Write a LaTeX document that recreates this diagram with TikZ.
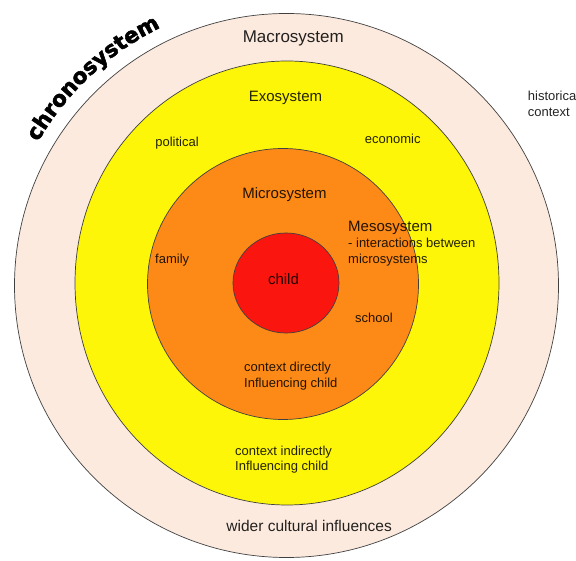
\documentclass[tikz,border=0pt]{standalone}
\usepackage{fontspec}
\setmainfont{Liberation Sans}
\newfontfamily\heavyfont{DejaVu Sans Bold}[FakeBold=2.5]
\usetikzlibrary{decorations.text,calc}
\definecolor{macrofill}{RGB}{252,234,222}
\definecolor{exofill}{RGB}{254,246,8}
\definecolor{microfill}{RGB}{253,138,22}
\definecolor{childfill}{RGB}{250,22,14}
\begin{document}
\begin{tikzpicture}[x=1pt,y=1pt,
  ring/.style={draw=black!75, line width=0.7pt},
  lbl/.style={inner sep=0pt, text=black, text opacity=0.86, font=\fontsize{13}{16}\selectfont},
  ttl/.style={lbl, font=\fontsize{15}{18}\selectfont},
  big/.style={lbl, font=\fontsize{17}{20}\selectfont}]
\useasboundingbox (0,0) rectangle (576,560);
\fill[white] (0,0) rectangle (576,560);
\coordinate (C) at (286.5,274.5);
% rings
\path[ring, fill=macrofill] (C) circle[radius=272];
\path[ring, fill=exofill] (287,277) ellipse[x radius=212, y radius=222];
\path[ring, fill=microfill] (283,276) circle[radius=135.5];
\path[ring, fill=childfill] (286,277) ellipse[x radius=53, y radius=50];
% chronosystem along arc
\path[decorate, decoration={text along path, text align=center,
  text format delimiters={|}{|},
  text={|\heavyfont\fontsize{21.5}{22}\selectfont|chronosystem}}]
  ($(C)+(152:287)$) arc[start angle=152, end angle=114, radius=287];
% labels
\node[big, anchor=base] (macro) at (293.3,517.3) {Macrosystem};
\node[ttl, anchor=base] (exo) at (285.5,458.3) {Exosystem};
\node[lbl, anchor=base] (pol) at (177,413.3) {political};
\node[lbl, anchor=base] (eco) at (392.7,416) {economic};
\node[ttl, anchor=base] (micro) at (284.5,361.7) {Microsystem};
\node[ttl, anchor=base west] (meso1) at (348,328.3) {Mesosystem};
\node[lbl, anchor=base west] (meso2) at (348,312.7) {- interactions between};
\node[lbl, anchor=base west] (meso3) at (348,296.7) {microsystems};
\node[lbl, anchor=base west] (fam) at (155,296.7) {family};
\node[ttl, anchor=base] (child) at (283.5,275) {child};
\node[lbl, anchor=base west] (school) at (355,237.7) {school};
\node[lbl, anchor=base west] (dir1) at (244,188.3) {context directly};
\node[lbl, anchor=base west] (dir2) at (244,172.7) {Influencing child};
\node[lbl, anchor=base west] (ind1) at (235,104) {context indirectly};
\node[lbl, anchor=base west] (ind2) at (235,89.3) {Influencing child};
\node[lbl, font=\fontsize{15.5}{18}\selectfont, anchor=base] (wider) at (309.2,29) {wider cultural influences};
\node[lbl, anchor=base west] (hist1) at (527.7,459.3) {historical};
\node[lbl, anchor=base west] (hist2) at (527.7,443.3) {context};
\end{tikzpicture}
\end{document}
